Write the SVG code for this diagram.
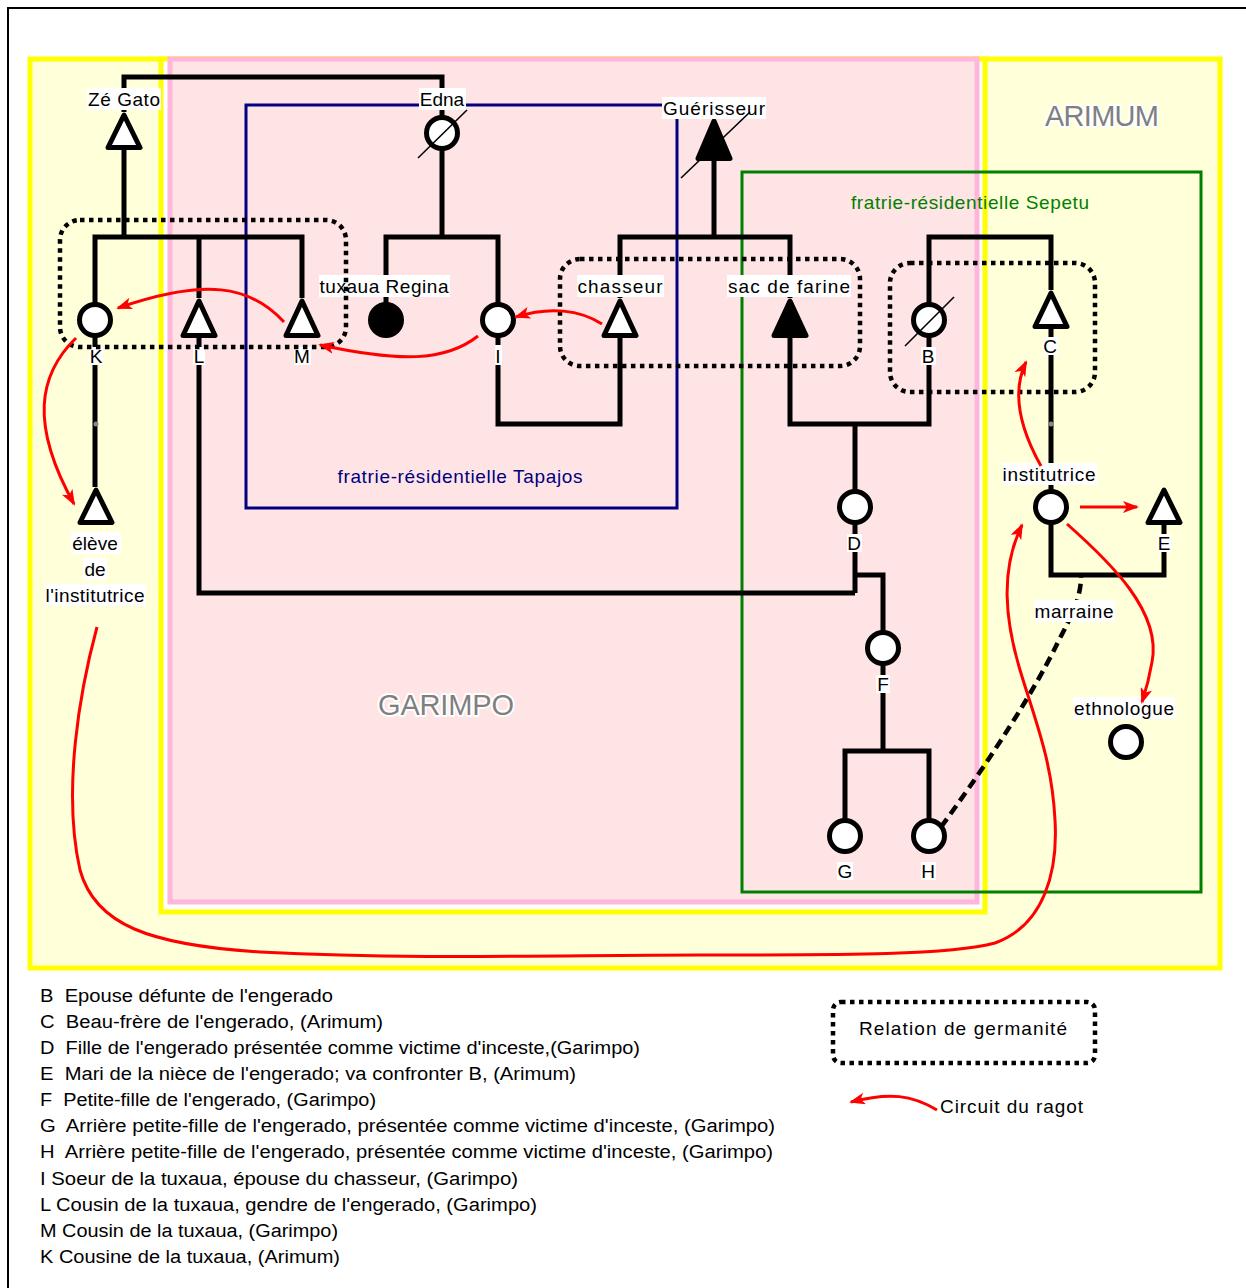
<svg xmlns="http://www.w3.org/2000/svg" width="1246" height="1288" viewBox="0 0 1246 1288">
<style>
text{font-family:"Liberation Sans",Arial,sans-serif;}
.lbl{font-size:19px;text-anchor:middle;fill:#000;}
.bg{fill:#fff;}
.ln{fill:none;stroke:#000;stroke-width:5;stroke-linejoin:miter;}
.nd{fill:#fff;stroke:#000;stroke-width:5;stroke-linejoin:round;}
.ndf{fill:#000;stroke:#000;stroke-width:5;stroke-linejoin:round;}
.sl{stroke:#000;stroke-width:1.6;fill:none;}
.dot{fill:none;stroke:#000;stroke-width:4.5;stroke-dasharray:4.5 4.5;}
.rag{fill:none;stroke:#FF0000;stroke-width:3;marker-end:url(#ah);}
.big{font-size:29px;text-anchor:middle;fill:#808080;stroke:#fff;stroke-width:4;paint-order:stroke;stroke-linejoin:round;}
.leg{font-size:18px;fill:#000;}
</style>
<defs>
<marker id="ah" viewBox="0 0 16 12" markerWidth="16" markerHeight="12" refX="14" refY="6" orient="auto" markerUnits="userSpaceOnUse">
<path d="M0,0 L16,6 L0,12 L4,6 Z" fill="#FF0000"/>
</marker>
</defs>
<rect x="0" y="0" width="1246" height="1288" fill="#fff"/>
<rect x="8" y="8" width="1260" height="1300" fill="none" stroke="#000" stroke-width="2"/>

<g id="regions">
<rect id="arimum" x="30" y="59" width="1190" height="909" fill="#FFFFD9" stroke="#FFFF00" stroke-width="5"/>
<rect x="161" y="59" width="824" height="853" fill="#fff" stroke="#FFFF00" stroke-width="5"/>
<rect id="garimpo" x="170" y="59" width="807" height="843" fill="#FFE4E5" stroke="#FFB6DA" stroke-width="5"/>
<rect id="tapajos" x="246" y="105" width="431" height="403" fill="none" stroke="#000080" stroke-width="3"/>
<rect id="sepetu" x="742" y="172" width="459" height="720" fill="none" stroke="#008000" stroke-width="3"/>
<text class="big" x="1102" y="126" textLength="114">ARIMUM</text>
<text class="big" x="446" y="715" textLength="136">GARIMPO</text>
<text x="460" y="483" style="font-size:19px;text-anchor:middle;fill:#000080" textLength="245">fratrie-résidentielle Tapajos</text>
<text x="970" y="209" style="font-size:19px;text-anchor:middle;fill:#008000" textLength="238">fratrie-résidentielle Sepetu</text>
</g>

<g id="connectors">
<path class="ln" d="M124,112 V77 H442 V117"/>
<path class="ln" d="M124,148 V237"/>
<path class="ln" d="M95,304 V237 H302 V298"/>
<path class="ln" d="M199,237 V298"/>
<path class="ln" d="M95,336 V487"/>
<path class="ln" d="M199,338 V593 H855"/>
<path class="ln" d="M442,149 V237"/>
<path class="ln" d="M386,304 V237 H498 V304"/>
<path class="ln" d="M498,336 V424 H620 V338"/>
<path class="ln" d="M714,161 V237"/>
<path class="ln" d="M620,298 V237 H790 V298"/>
<path class="ln" d="M790,338 V424 H929 V336"/>
<path class="ln" d="M929,304 V237 H1051 V290"/>
<path class="ln" d="M855,424 V491"/>
<path class="ln" d="M855,523 V593"/>
<path class="ln" d="M855,575 H883 V632"/>
<path class="ln" d="M883,664 V751"/>
<path class="ln" d="M845,820 V751 H929 V820"/>
<path class="ln" d="M1051,329 V491"/>
<path class="ln" d="M1051,523 V575 H1164 V525"/>
<path d="M941,827 C990,760 1035,690 1058,642 C1072,615 1081,598 1081,576" fill="none" stroke="#000" stroke-width="4.5" stroke-dasharray="10 6"/>
<circle cx="96" cy="424" r="2.5" fill="#888"/>
<circle cx="1051" cy="424" r="2.5" fill="#888"/>
</g>

<g id="node-zegato"><path class="nd" d="M124,115 L140,147.5 L108,147.5 Z"/><rect class="bg" x="87" y="88" width="74" height="22"/><text class="lbl" x="124" y="106" textLength="72">Zé Gato</text></g>
<g id="node-edna"><circle class="nd" cx="442" cy="133" r="15.5"/><rect class="bg" x="419" y="88" width="47" height="22"/><text class="lbl" x="442" y="106">Edna</text></g>
<g id="node-guerisseur"><path class="ndf" d="M714,121 L730,158.5 L698,158.5 Z"/><rect class="bg" x="662" y="97" width="104" height="22"/><text class="lbl" x="714" y="115" textLength="102">Guérisseur</text></g>
<g id="node-K"><circle class="nd" cx="95" cy="320" r="15.5"/><rect class="bg" x="89" y="347" width="14" height="18"/><text class="lbl" x="96" y="363">K</text></g>
<g id="node-L"><path class="nd" d="M199,301 L215,335.5 L183,335.5 Z"/><rect class="bg" x="193" y="347" width="12" height="18"/><text class="lbl" x="199" y="363">L</text></g>
<g id="node-M"><path class="nd" d="M302,301 L318,335.5 L286,335.5 Z"/><rect class="bg" x="294" y="347" width="17" height="18"/><text class="lbl" x="302" y="363">M</text></g>
<g id="node-regina"><circle class="ndf" cx="386" cy="320" r="15.5"/><rect class="bg" x="319" y="275" width="131" height="22"/><text class="lbl" x="384" y="293" textLength="129">tuxaua Regina</text></g>
<g id="node-I"><circle class="nd" cx="498" cy="320" r="15.5"/><rect class="bg" x="495" y="345" width="7" height="20"/><text class="lbl" x="498" y="363">I</text></g>
<g id="node-chasseur"><path class="nd" d="M620,301 L636,335.5 L604,335.5 Z"/><rect class="bg" x="577" y="275" width="87" height="22"/><text class="lbl" x="620" y="293" textLength="85">chasseur</text></g>
<g id="node-sac"><path class="ndf" d="M790,301 L806,335.5 L774,335.5 Z"/><rect class="bg" x="727" y="275" width="124" height="22"/><text class="lbl" x="789" y="293" textLength="122">sac de farine</text></g>
<g id="node-B"><circle class="nd" cx="929" cy="320" r="15.5"/><rect class="bg" x="921" y="347" width="15" height="18"/><text class="lbl" x="928" y="363">B</text></g>
<g id="node-C"><path class="nd" d="M1051,293 L1067,326.5 L1035,326.5 Z"/><rect class="bg" x="1043" y="337" width="15" height="18"/><text class="lbl" x="1050" y="353">C</text></g>
<g id="node-eleve"><path class="nd" d="M96,490 L112,522.5 L80,522.5 Z"/><rect class="bg" x="71" y="532" width="50" height="22"/><text class="lbl" x="95" y="550">élève</text><rect class="bg" x="83" y="558" width="24" height="22"/><text class="lbl" x="95" y="576">de</text><rect class="bg" x="45" y="584" width="101" height="22"/><text class="lbl" x="95" y="602" textLength="99">l'institutrice</text></g>
<g id="node-D"><circle class="nd" cx="855" cy="507" r="15.5"/><rect class="bg" x="847" y="534" width="15" height="18"/><text class="lbl" x="854" y="550">D</text></g>
<g id="node-F"><circle class="nd" cx="883" cy="648" r="15.5"/><rect class="bg" x="876" y="675" width="14" height="18"/><text class="lbl" x="883" y="691">F</text></g>
<g id="node-G"><circle class="nd" cx="845" cy="836" r="15.5"/><rect class="bg" x="837" y="862" width="16" height="18"/><text class="lbl" x="845" y="878">G</text></g>
<g id="node-H"><circle class="nd" cx="929" cy="836" r="15.5"/><rect class="bg" x="921" y="862" width="15" height="18"/><text class="lbl" x="928" y="878">H</text></g>
<g id="node-institutrice"><circle class="nd" cx="1051" cy="507" r="15.5"/><rect class="bg" x="1002" y="463" width="95" height="22"/><text class="lbl" x="1049" y="481" textLength="93">institutrice</text></g>
<g id="node-E"><path class="nd" d="M1164,490 L1180,522.5 L1148,522.5 Z"/><rect class="bg" x="1157" y="534" width="14" height="18"/><text class="lbl" x="1164" y="550">E</text></g>
<g id="label-marraine"><rect class="bg" x="1034" y="600" width="81" height="22"/><text class="lbl" x="1074" y="618" textLength="79">marraine</text></g>
<g id="node-ethnologue"><circle class="nd" cx="1126" cy="742" r="15.5"/><rect class="bg" x="1073" y="697" width="102" height="22"/><text class="lbl" x="1124" y="715" textLength="100">ethnologue</text></g>

<g id="germanite">
<rect class="dot" x="60" y="220" width="286" height="127" rx="20"/>
<rect class="dot" x="560" y="259" width="300" height="107" rx="20"/>
<rect class="dot" x="890" y="263" width="205" height="129" rx="20"/>
</g>

<g id="slashes">
<line class="sl" x1="418" y1="158" x2="467" y2="110"/>
<line class="sl" x1="681" y1="178" x2="750" y2="112"/>
<line class="sl" x1="905" y1="346" x2="954" y2="297"/>
</g>

<g id="ragot">
<path class="rag" d="M284,322 C250,285 205,278 118,308"/>
<path class="rag" d="M478,336 C445,362 400,362 320,345"/>
<path class="rag" d="M602,324 C580,310 550,306 516,317"/>
<path class="rag" d="M76,338 C38,375 30,425 74,504"/>
<path class="rag" d="M97,627 C80,690 62,790 80,870 C95,925 150,945 260,952 C420,960 560,955 700,955 C850,955 950,955 995,943 C1045,925 1058,870 1055,820 C1052,760 1035,720 1020,670 C1005,620 1000,570 1022,525"/>
<path class="rag" d="M1041,466 C1022,432 1010,395 1026,362"/>
<path class="rag" d="M1080,507 H1137"/>
<path class="rag" d="M1067,524 C1110,562 1162,612 1152,662 C1149,680 1146,690 1142,702"/>
</g>

<g id="legend">
<rect class="dot" x="833" y="1002" width="262" height="61" rx="8"/>
<text x="963" y="1035" style="font-size:19px;text-anchor:middle" textLength="208">Relation de germanité</text>
<path class="rag" d="M937,1110 C912,1095 890,1092 851,1102"/>
<text x="940" y="1113" style="font-size:19px" textLength="143">Circuit du ragot</text>
<g class="leg">
<text xml:space="preserve" class="leg" x="40" y="1002" textLength="293" lengthAdjust="spacingAndGlyphs">B  Epouse défunte de l'engerado</text>
<text xml:space="preserve" class="leg" x="40" y="1028" textLength="343" lengthAdjust="spacingAndGlyphs">C  Beau-frère de l'engerado, (Arimum)</text>
<text xml:space="preserve" class="leg" x="40" y="1054" textLength="600" lengthAdjust="spacingAndGlyphs">D  Fille de l'engerado présentée comme victime d'inceste,(Garimpo)</text>
<text xml:space="preserve" class="leg" x="40" y="1080" textLength="536" lengthAdjust="spacingAndGlyphs">E  Mari de la nièce de l'engerado; va confronter B, (Arimum)</text>
<text xml:space="preserve" class="leg" x="40" y="1106" textLength="336" lengthAdjust="spacingAndGlyphs">F  Petite-fille de l'engerado, (Garimpo)</text>
<text xml:space="preserve" class="leg" x="40" y="1132" textLength="735" lengthAdjust="spacingAndGlyphs">G  Arrière petite-fille de l'engerado, présentée comme victime d'inceste, (Garimpo)</text>
<text xml:space="preserve" class="leg" x="40" y="1158" textLength="733" lengthAdjust="spacingAndGlyphs">H  Arrière petite-fille de l'engerado, présentée comme victime d'inceste, (Garimpo)</text>
<text xml:space="preserve" class="leg" x="40" y="1185" textLength="478" lengthAdjust="spacingAndGlyphs">I Soeur de la tuxaua, épouse du chasseur, (Garimpo)</text>
<text xml:space="preserve" class="leg" x="40" y="1211" textLength="497" lengthAdjust="spacingAndGlyphs">L Cousin de la tuxaua, gendre de l'engerado, (Garimpo)</text>
<text xml:space="preserve" class="leg" x="40" y="1237" textLength="298" lengthAdjust="spacingAndGlyphs">M Cousin de la tuxaua, (Garimpo)</text>
<text xml:space="preserve" class="leg" x="40" y="1263" textLength="300" lengthAdjust="spacingAndGlyphs">K Cousine de la tuxaua, (Arimum)</text>
</g>
</g>
</svg>
